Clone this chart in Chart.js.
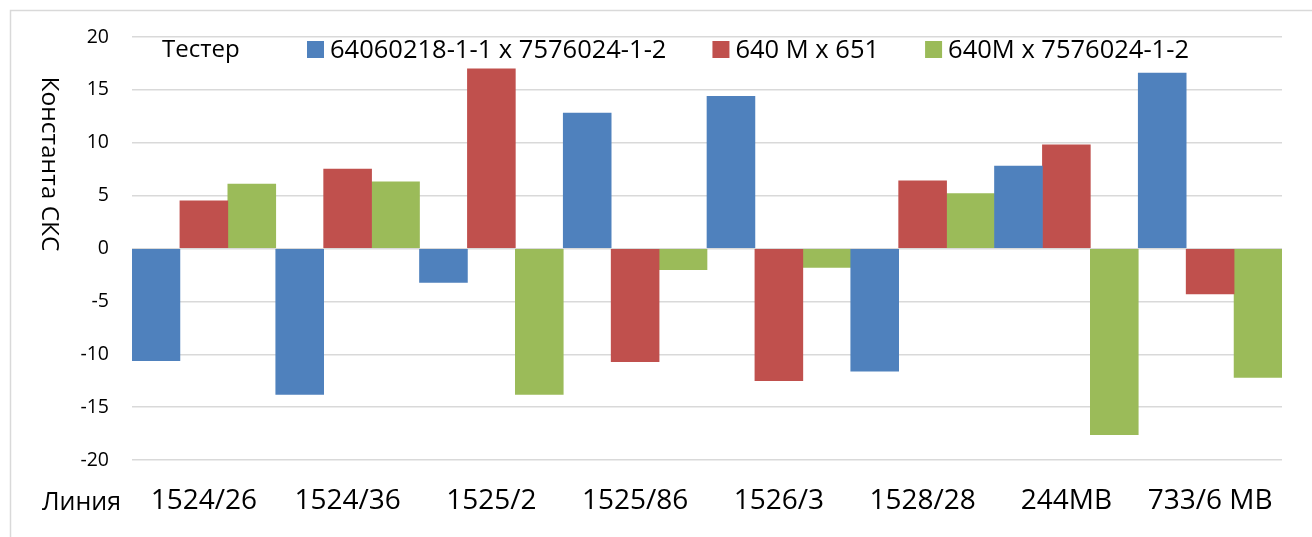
<!DOCTYPE html>
<html>
<head>
<meta charset="utf-8">
<script src="https://cdn.jsdelivr.net/npm/chart.js@4/dist/chart.umd.min.js"></script>
<style>
  html, body { margin: 0; padding: 0; background: #fff; }
  #chart { display: block; }
</style>
</head>
<body>
<canvas id="chart" width="1312" height="537"></canvas>
<script>
// data
const lines = ['1524/26', '1524/36', '1525/2', '1525/86', '1526/3', '1528/28', '244MB', '733/6 MB'];
const seriesNames = ['64060218-1-1 x 7576024-1-2', '640 M x 651', '640M x 7576024-1-2'];
const crossA = [-10.6, -13.8, -3.2, 12.8, 14.4, -11.6, 7.8, 16.6];
const crossB = [4.5, 7.5, 17.0, -10.7, -12.5, 6.4, 9.8, -4.3];
const crossC = [6.1, 6.3, -13.8, -2.0, -1.8, 5.2, -17.6, -12.2];
const yTicks = [-20, -15, -10, -5, 0, 5, 10, 15, 20];

const colors = ['#4F81BD', '#C0504D', '#9BBB59'];
const FONT = "'Open Sans', 'Noto Sans', sans-serif";

// frame, axis captions and the inline legend
const decor = {
  id: 'decor',
  beforeDraw(chart) {
    const ctx = chart.ctx;
    ctx.save();
    ctx.strokeStyle = '#d9d9d9';
    ctx.lineWidth = 1.5;
    ctx.strokeRect(10.5, 10.5, chart.width + 10, chart.height + 10);
    ctx.restore();
  },
  afterDraw(chart) {
    const ctx = chart.ctx;
    ctx.save();
    ctx.fillStyle = '#000';
    ctx.textBaseline = 'alphabetic';
    ctx.textAlign = 'left';

    // y title, reads top to bottom
    ctx.save();
    ctx.font = `24.5px ${FONT}`;
    ctx.translate(42, 164);
    ctx.rotate(Math.PI / 2);
    ctx.textAlign = 'center';
    ctx.fillText('Константа СКС', 0, 0);
    ctx.restore();

    ctx.font = `25px ${FONT}`;
    ctx.fillText('Линия', 42, 510);
    ctx.font = `24px ${FONT}`;
    ctx.fillText('Тестер', 162, 57);

    // legend entries
    ctx.font = `25.5px ${FONT}`;
    let x = 307;
    chart.data.datasets.forEach((ds) => {
      ctx.fillStyle = ds.backgroundColor;
      ctx.fillRect(x, 41, 17, 17);
      ctx.fillStyle = '#000';
      ctx.fillText(ds.label, x + 23, 58);
      x += 23 + ctx.measureText(ds.label).width + 46;
    });
    ctx.restore();
  }
};

new Chart(document.getElementById('chart'), {
  type: 'bar',
  data: {
    labels: lines,
    datasets: [crossA, crossB, crossC].map((vals, i) => ({
      label: seriesNames[i],
      data: vals,
      backgroundColor: colors[i],
      borderWidth: 0,
      categoryPercentage: 1,
      barPercentage: 1
    }))
  },
  options: {
    responsive: false,
    animation: false,
    layout: { padding: { left: 0, right: 30, top: 37, bottom: 0 } },
    plugins: {
      legend: { display: false },
      tooltip: { enabled: false }
    },
    scales: {
      x: {
        grid: { display: false, drawTicks: false },
        border: { display: false },
        ticks: { color: '#000', font: { family: FONT, size: 28 }, padding: 24, maxRotation: 0, autoSkip: false },
        afterFit(scale) { scale.height = 537 - 460; }
      },
      y: {
        min: -20,
        max: 20,
        afterBuildTicks(scale) { scale.ticks = yTicks.map(v => ({ value: v })); },
        grid: { color: '#d9d9d9', lineWidth: 1.5, drawTicks: false },
        border: { display: false },
        ticks: { color: '#000', font: { family: FONT, size: 19.5 }, padding: 23 },
        afterFit(scale) { scale.width = 132; }
      }
    }
  },
  plugins: [decor]
});
</script>
</body>
</html>
